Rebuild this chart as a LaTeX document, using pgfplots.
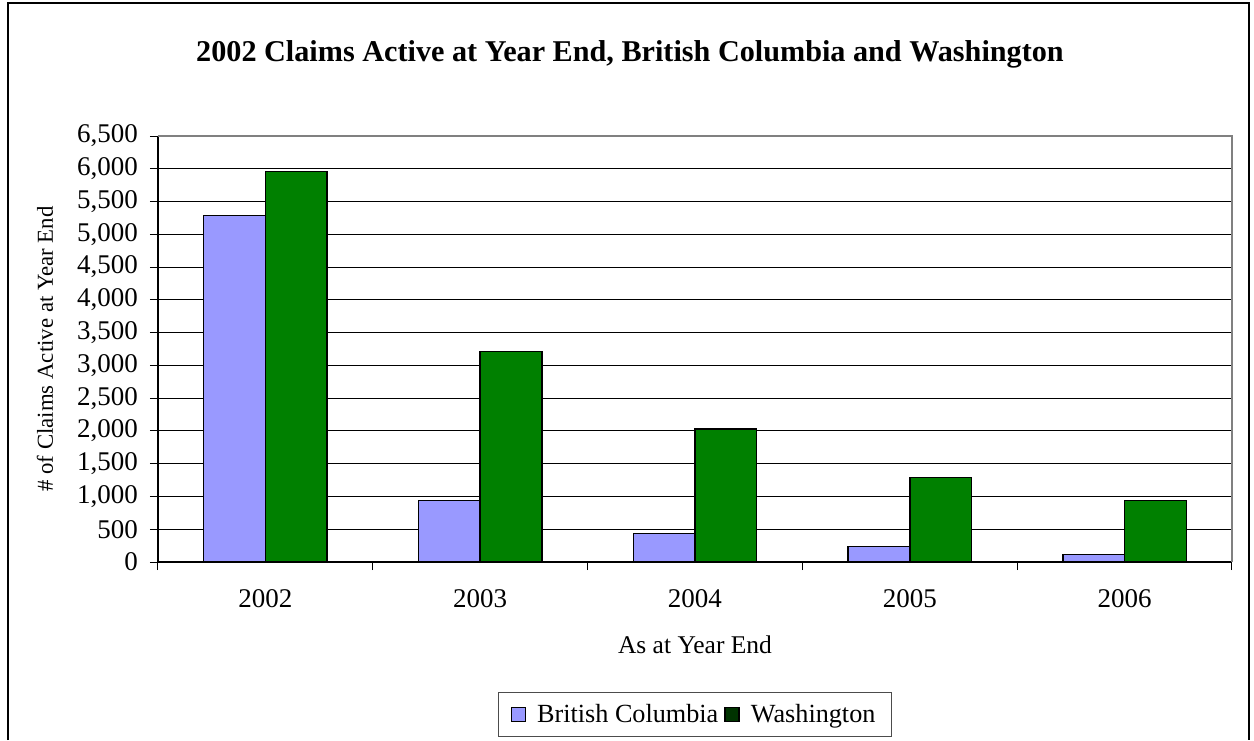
\documentclass[border=0pt]{standalone}
\usepackage{fontspec}
\setmainfont{Liberation Serif}
\usepackage{pgfplots}
\pgfplotsset{compat=1.18}
\definecolor{bcblue}{RGB}{153,153,255}
\definecolor{wagreen}{RGB}{0,128,0}
\definecolor{wadark}{RGB}{0,51,0}
\begin{document}
\begin{tikzpicture}
\path[use as bounding box] (0,0) rectangle (627pt,370pt);
\draw[line width=0.8pt] (4pt,0) -- (4pt,368.5pt) -- (624.5pt,368.5pt) -- (624.5pt,0);
\node[font=\fontsize{15.1}{17}\selectfont\bfseries, anchor=base] at (315pt,339pt) {2002 Claims Active at Year End, British Columbia and Washington};
\begin{axis}[
  at={(79pt,89pt)}, anchor=south west,
  scale only axis, width=537pt, height=213pt,
  ybar, bar width=30.85pt,
  xmin=-0.5, xmax=4.5, ymin=0, ymax=6500,
  axis lines*=left,
  axis line style={black, line width=0.6pt},
  ytick={0,500,...,6500},
  ymajorgrids, grid style={black, line width=0.5pt},
  xtick={-0.5,0.5,...,4.5}, xticklabels={},
  extra x ticks={0,1,2,3,4},
  extra x tick labels={2002,2003,2004,2005,2006},
  extra x tick style={major tick length=0pt, grid=none, xticklabel style={yshift=-10pt}},
  tick align=outside, major tick length=4pt,
  tick style={black, line width=0.5pt},
  font=\fontsize{13.5}{15}\selectfont,
  ticklabel style={font=\fontsize{13.5}{15}\selectfont},
  /pgf/number format/assume math mode=true,
  yticklabel style={/pgf/number format/1000 sep={,}, xshift=-2.5pt},
  ylabel={\# of Claims Active at Year End},
  ylabel style={at={(axis description cs:-0.1052,0.5)}, anchor=center, font=\fontsize{11.4}{13}\selectfont},
  xlabel={As at Year End},
  xlabel style={at={(axis description cs:0.5,-0.195)}, anchor=center, font=\fontsize{12.75}{14}\selectfont},
  legend columns=2,
  legend style={at={(axis description cs:0.5,-0.358)}, anchor=center, draw=black!70, line width=0.5pt,
    font=\fontsize{13.1}{15}\selectfont, inner xsep=6pt, inner ysep=3.5pt,
    /tikz/every even column/.append style={column sep=1pt}},
  legend image code/.code={\draw[#1, line width=0.6pt] (0pt,-3.5pt) rectangle (7pt,3.5pt); \path[draw=none, fill=none] (7pt,0) -- (11pt,0);},
  after end axis/.code={\draw[gray, line width=0.6pt] (rel axis cs:0,1) -- (rel axis cs:1,1) -- (rel axis cs:1,0);},
]
\addplot[fill=bcblue, draw=black, line width=0.75pt, bar shift=-15.425pt, forget plot] coordinates {(0,5290) (1,940) (2,436) (3,233) (4,111)};
\addplot[fill=wagreen, draw=black, line width=0.75pt, bar shift=15.425pt, forget plot] coordinates {(0,5960) (1,3212) (2,2028) (3,1290) (4,935)};
\addlegendimage{fill=bcblue, draw=black}
\addlegendentry{British Columbia}
\addlegendimage{fill=wadark, draw=black}
\addlegendentry{Washington}
\end{axis}
\end{tikzpicture}
\end{document}
